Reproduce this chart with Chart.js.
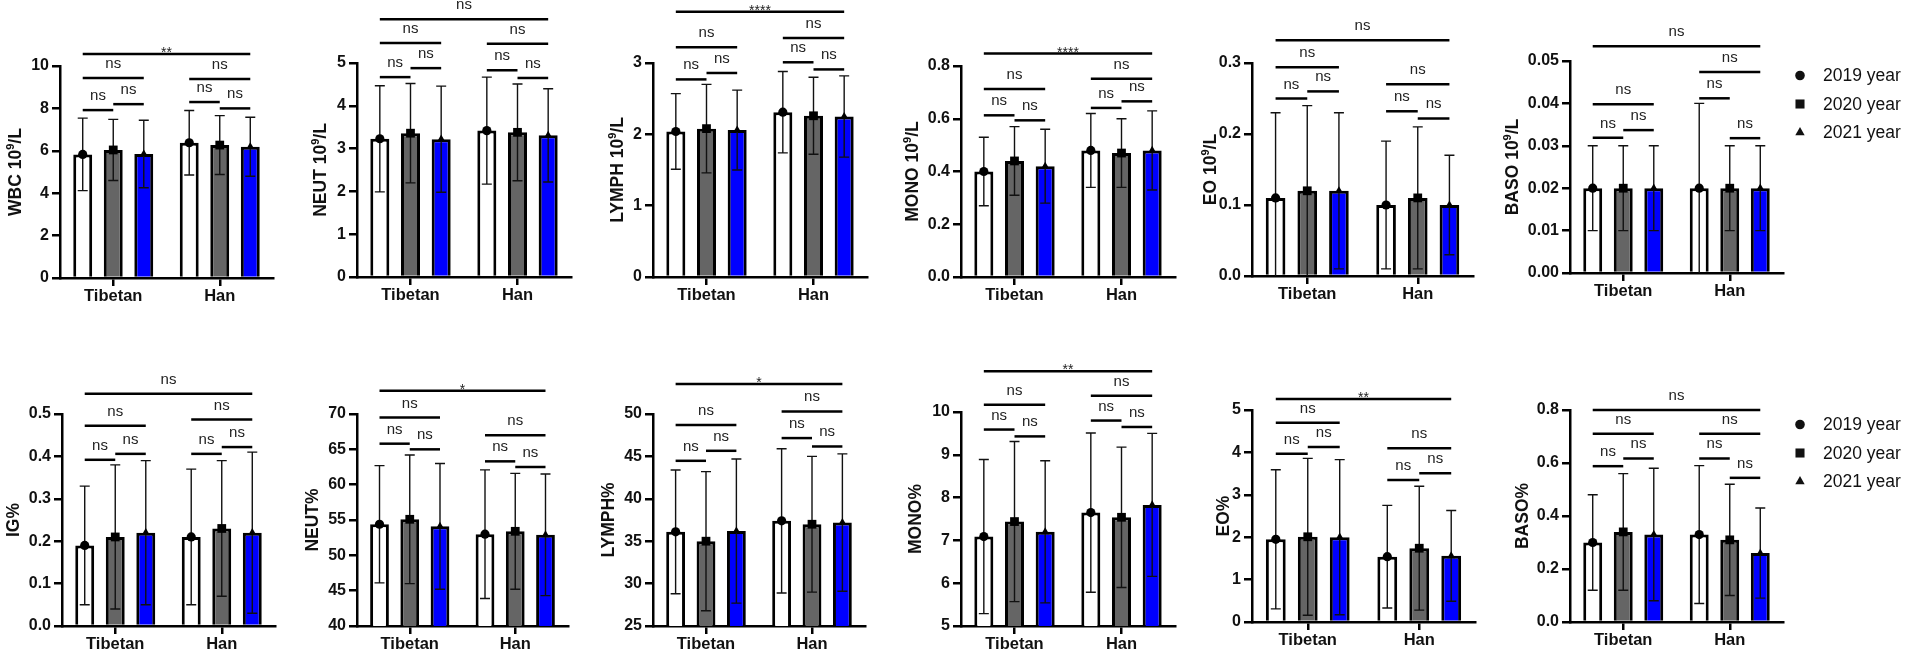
<!DOCTYPE html>
<html>
<head>
<meta charset="utf-8">
<script src="https://cdn.jsdelivr.net/npm/chart.js@4.4.1/dist/chart.umd.min.js"></script>
<style>
  html, body { margin: 0; padding: 0; background: #fff; }
  body { width: 1905px; height: 655px; position: relative; overflow: hidden; }
  canvas { position: absolute; }
</style>
</head>
<body>
<script>
const groups = ["Tibetan", "Han"];
const years = ["2019 year", "2020 year", "2021 year"];
const markers = ["circle", "rect", "triangle"];
const barColors = ["#ffffff", "#656565", "#0000ff"];

// values in order: Tibetan 2019, 2020, 2021, Han 2019, 2020, 2021
const wbcMean = [5.83, 6.04, 5.85, 6.38, 6.27, 6.19];
const wbcSD = [1.71, 1.44, 1.59, 1.52, 1.39, 1.39];
const neutMean = [3.23, 3.36, 3.22, 3.42, 3.38, 3.31];
const neutSD = [1.24, 1.16, 1.24, 1.25, 1.13, 1.09];
const lymphMean = [2.04, 2.08, 2.06, 2.31, 2.26, 2.25];
const lymphSD = [0.53, 0.62, 0.56, 0.57, 0.54, 0.57];
const monoMean = [0.40, 0.44, 0.42, 0.48, 0.47, 0.48];
const monoSD = [0.13, 0.13, 0.14, 0.14, 0.13, 0.15];
const eoMean = [0.11, 0.12, 0.12, 0.10, 0.11, 0.10];
const eoSD = [0.12, 0.12, 0.11, 0.09, 0.10, 0.07];
const basoMean = [0.02, 0.02, 0.02, 0.02, 0.02, 0.02];
const basoSD = [0.01, 0.01, 0.01, 0.02, 0.01, 0.01];
const igMean = [0.19, 0.21, 0.22, 0.21, 0.23, 0.22];
const igSD = [0.14, 0.17, 0.17, 0.16, 0.16, 0.19];
const neutPctMean = [54.4, 55.1, 54.1, 53.0, 53.4, 52.9];
const neutPctSD = [8.3, 9.1, 8.9, 9.1, 8.2, 8.6];
const lymphPctMean = [36.1, 35.0, 36.2, 37.4, 37.0, 37.2];
const lymphPctSD = [7.3, 8.2, 8.5, 8.5, 8.0, 8.1];
const monoPctMean = [7.09, 7.44, 7.20, 7.65, 7.54, 7.83];
const monoPctSD = [1.80, 1.87, 1.66, 1.86, 1.64, 1.67];
const eoPctMean = [1.95, 2.01, 2.00, 1.54, 1.74, 1.56];
const eoPctSD = [1.64, 1.85, 1.83, 1.21, 1.46, 1.07];
const basoPctMean = [0.30, 0.34, 0.33, 0.33, 0.31, 0.26];
const basoPctSD = [0.18, 0.22, 0.25, 0.26, 0.21, 0.17];

// y tick labels
const wbcTicks = ["0", "2", "4", "6", "8", "10"];
const neutTicks = ["0", "1", "2", "3", "4", "5"];
const lymphTicks = ["0", "1", "2", "3"];
const monoTicks = ["0.0", "0.2", "0.4", "0.6", "0.8"];
const eoTicks = ["0.0", "0.1", "0.2", "0.3"];
const basoTicks = ["0.00", "0.01", "0.02", "0.03", "0.04", "0.05"];
const igTicks = ["0.0", "0.1", "0.2", "0.3", "0.4", "0.5"];
const neutPctTicks = ["40", "45", "50", "55", "60", "65", "70"];
const lymphPctTicks = ["25", "30", "35", "40", "45", "50"];
const monoPctTicks = ["5", "6", "7", "8", "9", "10"];
const eoPctTicks = ["0", "1", "2", "3", "4", "5"];
const basoPctTicks = ["0.0", "0.2", "0.4", "0.6", "0.8"];

// significance brackets: [from bar, to bar, level (data units), label]
const wbcSig = [[0,5,10.57,"**"],[0,2,9.43,"ns"],[0,1,7.92,"ns"],[1,2,8.2,"ns"],[3,5,9.39,"ns"],[3,4,8.3,"ns"],[4,5,8.0,"ns"]];
const neutSig = [[0,5,6.02,"ns"],[0,2,5.47,"ns"],[0,1,4.67,"ns"],[1,2,4.88,"ns"],[3,5,5.45,"ns"],[3,4,4.83,"ns"],[4,5,4.65,"ns"]];
const lymphSig = [[0,5,3.72,"****"],[0,2,3.22,"ns"],[0,1,2.77,"ns"],[1,2,2.86,"ns"],[3,5,3.35,"ns"],[3,4,3.01,"ns"],[4,5,2.91,"ns"]];
const monoSig = [[0,5,0.847,"****"],[0,2,0.713,"ns"],[0,1,0.613,"ns"],[1,2,0.594,"ns"],[3,5,0.752,"ns"],[3,4,0.641,"ns"],[4,5,0.666,"ns"]];
const eoSig = [[0,5,0.332,"ns"],[0,2,0.294,"ns"],[0,1,0.25,"ns"],[1,2,0.26,"ns"],[3,5,0.27,"ns"],[3,4,0.232,"ns"],[4,5,0.222,"ns"]];
const basoSig = [[0,5,0.0535,"ns"],[0,2,0.0398,"ns"],[0,1,0.0319,"ns"],[1,2,0.0337,"ns"],[3,5,0.0474,"ns"],[3,4,0.0412,"ns"],[4,5,0.0318,"ns"]];
const igSig = [[0,5,0.548,"ns"],[0,2,0.472,"ns"],[0,1,0.392,"ns"],[1,2,0.406,"ns"],[3,5,0.487,"ns"],[3,4,0.406,"ns"],[4,5,0.422,"ns"]];
const neutPctSig = [[0,5,73.3,"*"],[0,2,69.5,"ns"],[0,1,65.8,"ns"],[1,2,65.0,"ns"],[3,5,67.0,"ns"],[3,4,63.3,"ns"],[4,5,62.5,"ns"]];
const lymphPctSig = [[0,5,53.55,"*"],[0,2,48.7,"ns"],[0,1,44.48,"ns"],[1,2,45.66,"ns"],[3,5,50.3,"ns"],[3,4,47.16,"ns"],[4,5,46.17,"ns"]];
const monoPctSig = [[0,5,10.95,"**"],[0,2,10.17,"ns"],[0,1,9.59,"ns"],[1,2,9.43,"ns"],[3,5,10.38,"ns"],[3,4,9.8,"ns"],[4,5,9.65,"ns"]];
const eoPctSig = [[0,5,5.26,"**"],[0,2,4.70,"ns"],[0,1,3.97,"ns"],[1,2,4.13,"ns"],[3,5,4.10,"ns"],[3,4,3.35,"ns"],[4,5,3.51,"ns"]];
const basoPctSig = [[0,5,0.80,"ns"],[0,2,0.71,"ns"],[0,1,0.588,"ns"],[1,2,0.617,"ns"],[3,5,0.71,"ns"],[3,4,0.617,"ns"],[4,5,0.544,"ns"]];

const panels = [
  { title: ["WBC 10", "9", "/L"], mean: wbcMean, sd: wbcSD, ticks: wbcTicks, sig: wbcSig },
  { title: ["NEUT 10", "9", "/L"], mean: neutMean, sd: neutSD, ticks: neutTicks, sig: neutSig },
  { title: ["LYMPH 10", "9", "/L"], mean: lymphMean, sd: lymphSD, ticks: lymphTicks, sig: lymphSig },
  { title: ["MONO 10", "9", "/L"], mean: monoMean, sd: monoSD, ticks: monoTicks, sig: monoSig },
  { title: ["EO 10", "9", "/L"], mean: eoMean, sd: eoSD, ticks: eoTicks, sig: eoSig },
  { title: ["BASO 10", "9", "/L"], mean: basoMean, sd: basoSD, ticks: basoTicks, sig: basoSig, legend: true },
  { title: ["IG%"], mean: igMean, sd: igSD, ticks: igTicks, sig: igSig },
  { title: ["NEUT%"], mean: neutPctMean, sd: neutPctSD, ticks: neutPctTicks, sig: neutPctSig },
  { title: ["LYMPH%"], mean: lymphPctMean, sd: lymphPctSD, ticks: lymphPctTicks, sig: lymphPctSig },
  { title: ["MONO%"], mean: monoPctMean, sd: monoPctSD, ticks: monoPctTicks, sig: monoPctSig },
  { title: ["EO%"], mean: eoPctMean, sd: eoPctSD, ticks: eoPctTicks, sig: eoPctSig },
  { title: ["BASO%"], mean: basoPctMean, sd: basoPctSD, ticks: basoPctTicks, sig: basoPctSig, legend: true }
];

// page layout: [y axis x, x axis end, plot top, plot bottom, y title x]
const frames = [
  [60, 273, 66, 278, 15], [357, 571, 63, 277, 320], [653, 867, 63, 277, 617],
  [961, 1175, 66, 277, 912], [1252, 1473, 63, 276, 1210], [1570, 1783, 61, 273, 1512],
  [62, 275, 414, 626, 13], [357, 568, 414, 626, 312], [653, 865, 414, 626, 608],
  [961, 1175, 412, 626, 915], [1252, 1475, 410, 622, 1223], [1570, 1783, 410, 622, 1522]
];
const rowTop = [0, 327];
const rowH = [327, 328];

const FONT = "'Liberation Sans', Arial, sans-serif";
const markerR = [4.6, 6.2, 4.6];
const legendR = [4.8, 6.4, 5.4];

Chart.defaults.font.family = FONT;
Chart.defaults.color = "#000";

function decor(p, f, left, top) {
  return {
    id: "decor",
    afterDatasetsDraw(chart) {
      const ctx = chart.ctx;
      const y = chart.scales.y;
      const xOf = i => chart.getDatasetMeta(i % 3).data[Math.floor(i / 3)].x;
      ctx.save();

      // error bars (mean ± SD)
      ctx.strokeStyle = "#111";
      ctx.lineWidth = 1.4;
      p.mean.forEach((m, i) => {
        const x = xOf(i);
        const hi = y.getPixelForValue(m + p.sd[i]);
        const clipped = m - p.sd[i] <= y.min;
        const lo = y.getPixelForValue(clipped ? y.min : m - p.sd[i]);
        ctx.beginPath();
        ctx.moveTo(x, hi); ctx.lineTo(x, lo);
        ctx.moveTo(x - 5, hi); ctx.lineTo(x + 5, hi);
        if (!clipped) { ctx.moveTo(x - 5, lo); ctx.lineTo(x + 5, lo); }
        ctx.stroke();
      });

      // mean markers
      ctx.fillStyle = "#000";
      p.mean.forEach((m, i) => {
        Chart.helpers.drawPoint(ctx, {
          pointStyle: markers[i % 3], radius: markerR[i % 3], rotation: 0, borderWidth: 0
        }, xOf(i), y.getPixelForValue(m));
      });

      // significance brackets
      ctx.strokeStyle = "#000";
      ctx.lineWidth = 2.5;
      ctx.textAlign = "center";
      ctx.textBaseline = "alphabetic";
      p.sig.forEach(([a, b, h, label]) => {
        const x1 = xOf(a), x2 = xOf(b), yy = y.getPixelForValue(h);
        ctx.beginPath();
        ctx.moveTo(x1, yy); ctx.lineTo(x2, yy);
        ctx.stroke();
        ctx.fillStyle = "#222";
        if (label === "ns") {
          ctx.font = "15px " + FONT;
          ctx.fillText(label, (x1 + x2) / 2, yy - 10);
        } else {
          ctx.font = "14px " + FONT;
          ctx.fillText(label, (x1 + x2) / 2, yy + 3);
        }
      });
      ctx.restore();
    },
    afterDraw(chart) {
      const ctx = chart.ctx;
      const area = chart.chartArea;
      ctx.save();

      // rotated y title with superscript
      const main = "bold 17.5px " + FONT;
      const sup = "bold 11px " + FONT;
      ctx.font = main;
      const w0 = ctx.measureText(p.title[0]).width;
      let w1 = 0, w2 = 0;
      if (p.title.length > 1) {
        ctx.font = sup; w1 = ctx.measureText(p.title[1]).width;
        ctx.font = main; w2 = ctx.measureText(p.title[2]).width;
      }
      const total = w0 + w1 + w2;
      ctx.translate(f[4] - left, (area.top + area.bottom) / 2);
      ctx.rotate(-Math.PI / 2);
      ctx.fillStyle = "#111";
      ctx.textAlign = "left";
      ctx.textBaseline = "alphabetic";
      let cx = -total / 2;
      ctx.font = main;
      ctx.fillText(p.title[0], cx, 6.3);
      if (p.title.length > 1) {
        cx += w0;
        ctx.font = sup;
        ctx.fillText(p.title[1], cx, -1);
        cx += w1;
        ctx.font = main;
        ctx.fillText(p.title[2], cx, 6.3);
      }
      ctx.restore();

      // legend
      if (p.legend) {
        ctx.save();
        ctx.fillStyle = "#111";
        ctx.font = "17.5px " + FONT;
        ctx.textAlign = "left";
        ctx.textBaseline = "middle";
        chart.data.datasets.forEach((ds, k) => {
          const ly = area.top + 14.5 + k * 28.5;
          const lx = area.right + 17;
          Chart.helpers.drawPoint(ctx, {
            pointStyle: markers[k], radius: legendR[k], rotation: 0, borderWidth: 0
          }, lx, ly);
          ctx.fillText(ds.label, lx + 23, ly + 1);
        });
        ctx.restore();
      }
    }
  };
}

panels.forEach((p, n) => {
  const f = frames[n];
  const row = n < 6 ? 0 : 1;
  const left = f[4] - 11;
  const top = rowTop[row];
  const width = p.legend ? 1905 - left : f[1] + 15 - left;
  const height = rowH[row];

  const canvas = document.createElement("canvas");
  canvas.width = width;
  canvas.height = height;
  canvas.style.left = left + "px";
  canvas.style.top = top + "px";
  canvas.style.width = width + "px";
  canvas.style.height = height + "px";
  document.body.appendChild(canvas);

  const tickVals = p.ticks.map(Number);

  new Chart(canvas, {
    type: "bar",
    data: {
      labels: groups,
      datasets: years.map((label, k) => ({
        label,
        data: groups.map((g, gi) => p.mean[gi * 3 + k]),
        backgroundColor: barColors[k],
        borderColor: "#000",
        borderWidth: 3,
        borderSkipped: "start",
        categoryPercentage: 0.86,
        barPercentage: 0.62
      }))
    },
    options: {
      responsive: false,
      animation: false,
      events: [],
      layout: {
        padding: { top: f[2] - top, right: left + width - f[1], left: 0, bottom: 0 }
      },
      plugins: { legend: { display: false }, tooltip: { enabled: false }, title: { display: false } },
      scales: {
        x: {
          type: "category",
          offset: true,
          grid: { offset: false, drawOnChartArea: false, drawTicks: true, tickLength: 8, lineWidth: 2.5, color: "#000" },
          border: { display: true, width: 2.5, color: "#000" },
          ticks: { font: { size: 16.5, weight: "bold" }, color: "#111", padding: 1, maxRotation: 0 },
          afterFit: s => { s.height = top + height - f[3]; }
        },
        y: {
          min: tickVals[0],
          max: tickVals[tickVals.length - 1],
          grid: { drawOnChartArea: false, drawTicks: true, tickLength: 8, lineWidth: 2.5, color: "#000" },
          border: { display: true, width: 2.5, color: "#000" },
          ticks: {
            font: { size: 16, weight: "bold" },
            color: "#111",
            padding: 3,
            callback: (v, i) => p.ticks[i]
          },
          afterBuildTicks: s => { s.ticks = tickVals.map(v => ({ value: v })); },
          afterFit: s => { s.width = f[0] - left; }
        }
      }
    },
    plugins: [decor(p, f, left, top)]
  });
});
</script>
</body>
</html>
